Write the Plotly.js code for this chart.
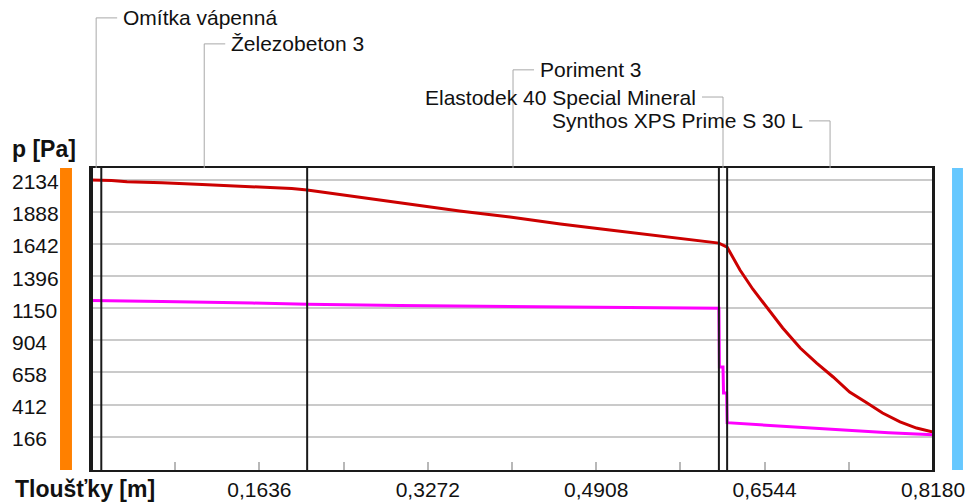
<!DOCTYPE html>
<html>
<head>
<meta charset="utf-8">
<script src="https://cdn.plot.ly/plotly-3.0.1.min.js"></script>
<style>
  html, body { margin: 0; padding: 0; background: #ffffff; }
  #chart { width: 969px; height: 503px; }
</style>
</head>
<body>
<div id="chart"></div>
<script>
// ---- data ----
const layerNames = ['Omítka vápenná', 'Železobeton 3', 'Poriment 3', 'Elastodek 40 Special Mineral', 'Synthos XPS Prime S 30 L'];
const layerBounds = [0, 0.01, 0.21, 0.61, 0.618, 0.818];

const yTickVals = [166, 412, 658, 904, 1150, 1396, 1642, 1888, 2134];
const xTickVals = [0.0818, 0.1636, 0.2454, 0.3272, 0.409, 0.4908, 0.5726, 0.6544, 0.7362, 0.818];
const xTickText = ['', '0,1636', '', '0,3272', '', '0,4908', '', '0,6544', '', '0,8180'];

// red curve (saturated pressure)
const redX = [0, 0.010, 0.020, 0.035, 0.069, 0.108, 0.148, 0.195, 0.210, 0.261, 0.310, 0.358, 0.407, 0.456, 0.504, 0.553, 0.592, 0.610, 0.618,
              0.6305, 0.643, 0.657, 0.672, 0.689, 0.705, 0.721, 0.737, 0.754, 0.769, 0.786, 0.802, 0.818];
const redY = [2131, 2131, 2127, 2118, 2111, 2096, 2081, 2066, 2054, 2000, 1947, 1893, 1848, 1794, 1748, 1703, 1664, 1648, 1617,
              1442, 1295, 1155, 998, 845, 730, 623, 508, 424, 347, 279, 232, 202];

// magenta curve (partial pressure)
const magX = [0, 0.010, 0.069, 0.157, 0.210, 0.300, 0.450, 0.610, 0.6105, 0.6140, 0.6145, 0.6175, 0.618,
              0.650, 0.680, 0.710, 0.740, 0.775, 0.818];
const magY = [1209, 1207, 1201, 1189, 1179, 1171, 1159, 1149, 699, 699, 501, 501, 273,
              257, 239, 225, 211, 196, 180];

// ---- styling ----
const FONT = 'Liberation Sans, Arial, sans-serif';
const TXT = '#111111';
const tickFont = { family: FONT, size: 21, color: TXT };

const traces = [
  { x: redX, y: redY, type: 'scatter', mode: 'lines', line: { color: '#CC0000', width: 3 }, hoverinfo: 'skip' },
  { x: magX, y: magY, type: 'scatter', mode: 'lines', line: { color: '#FF00FF', width: 3 }, hoverinfo: 'skip' }
];

const shapes = [];
const annotations = [];

// layer boundary lines
layerBounds.forEach((b, i) => {
  shapes.push({ type: 'line', xref: 'x', yref: 'paper', x0: b, x1: b, y0: 0, y1: 1,
                line: { color: '#1a1a1a', width: i === 0 ? 4 : 2 }, layer: 'above' });
});

// side colour bars
shapes.push({ type: 'rect', xref: 'paper', yref: 'paper', x0: -0.0368, x1: -0.0226, y0: 0, y1: 1,
              fillcolor: '#FF8000', line: { width: 0 } });
shapes.push({ type: 'rect', xref: 'paper', yref: 'paper', x0: 1.0226, x1: 1.0356, y0: 0, y1: 1,
              fillcolor: '#66C8FF', line: { width: 0 } });

// layer labels with leader lines
const labelPaperY = [1.497, 1.411, 1.325, 1.235, 1.156];
const labelDir = [1, 1, 1, -1, -1];
layerNames.forEach((name, i) => {
  const c = (layerBounds[i] + layerBounds[i + 1]) / 2;
  const ly = labelPaperY[i];
  const d = labelDir[i];
  shapes.push({ type: 'line', xref: 'x', yref: 'paper', x0: c, x1: c, y0: 1, y1: ly,
                line: { color: '#a8a8a8', width: 1 } });
  shapes.push({ type: 'line', xref: 'x', xsizemode: 'pixel', xanchor: c, x0: 0, x1: 21 * d,
                yref: 'paper', y0: ly, y1: ly, line: { color: '#a8a8a8', width: 1 } });
  annotations.push({ xref: 'x', x: c, xshift: 25 * d, xanchor: d > 0 ? 'left' : 'right',
                     yref: 'paper', y: ly, yanchor: 'middle', text: name, showarrow: false,
                     font: { family: FONT, size: 21, color: TXT } });
});

// y tick labels (left aligned)
yTickVals.forEach(v => {
  annotations.push({ xref: 'paper', x: -0.0962, xanchor: 'left', yref: 'y', y: v, yanchor: 'middle',
                     yshift: -2, text: String(v), showarrow: false, font: tickFont });
});

// axis captions
annotations.push({ xref: 'paper', x: -0.0962, xanchor: 'left', yref: 'paper', y: 1.063, yanchor: 'middle',
                   text: '<b>p [Pa]</b>', showarrow: false, font: { family: FONT, size: 23, color: TXT } });
annotations.push({ xref: 'paper', x: -0.0926, xanchor: 'left', yref: 'paper', y: -0.063, yanchor: 'middle',
                   text: '<b>Tloušťky [m]</b>', showarrow: false, font: { family: FONT, size: 23, color: TXT } });

const layout = {
  width: 969, height: 503,
  margin: { l: 91, r: 36, t: 168, b: 33, pad: 0 },
  paper_bgcolor: '#ffffff', plot_bgcolor: '#ffffff',
  showlegend: false,
  xaxis: {
    range: [0, 0.818], tickmode: 'array', tickvals: xTickVals, ticktext: xTickText,
    ticks: 'inside', ticklen: 8, tickwidth: 2, tickcolor: '#b8b8b8',
    showline: true, linecolor: '#1a1a1a', linewidth: 2, mirror: true,
    showgrid: false, zeroline: false, tickfont: tickFont, fixedrange: true
  },
  yaxis: {
    range: [-89, 2223], tickmode: 'array', tickvals: yTickVals, showticklabels: false, ticks: '',
    showgrid: true, gridcolor: '#cacaca', gridwidth: 2,
    showline: true, linecolor: '#1a1a1a', linewidth: 2, mirror: true,
    zeroline: false, fixedrange: true
  },
  shapes: shapes,
  annotations: annotations
};

Plotly.newPlot('chart', traces, layout, { staticPlot: true, displayModeBar: false });
</script>
</body>
</html>
